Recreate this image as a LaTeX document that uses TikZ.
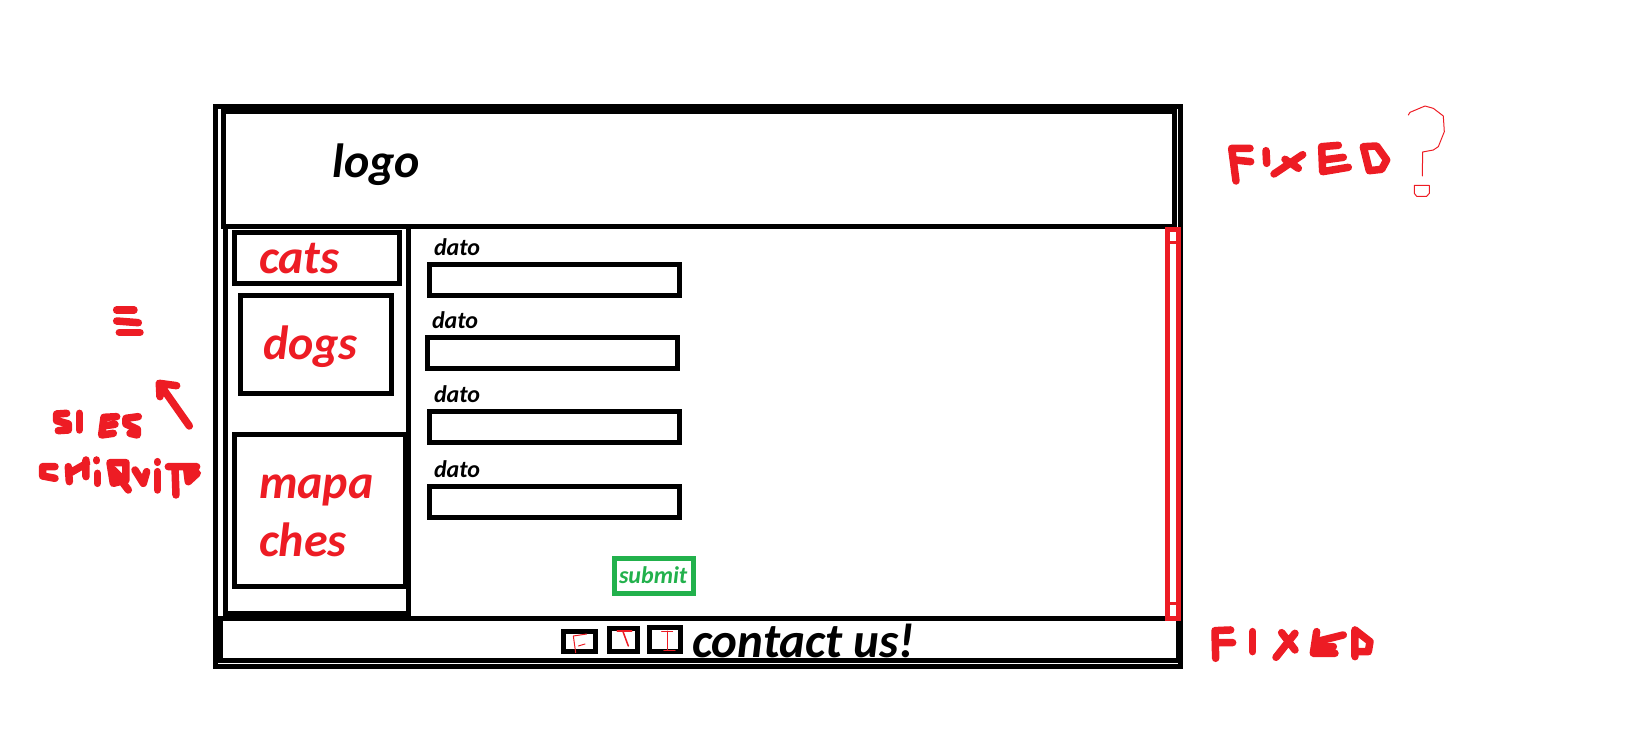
\documentclass[tikz,border=0pt]{standalone}
\usepackage{fontspec}
\setmainfont{Carlito}
\definecolor{pred}{HTML}{ED1C24}
\definecolor{pgreen}{HTML}{22B14C}
\tikzset{
  box/.style={draw=black,line width=5pt,rectangle,inner sep=0pt,outer sep=0pt},
  redbox/.style={box,draw=pred},
  greenbox/.style={box,draw=pgreen},
  lbl/.style={inner sep=0pt,outer sep=0pt,anchor=base west,font=\bfseries\itshape\fontsize{#1}{#1}\selectfont},
  marker/.style={draw=pred,line width=7.5pt,line cap=round,line join=round},
  pen/.style={draw=pred,line width=1pt,line cap=round,line join=round},
}
\newcommand{\bx}[6]{\node[#6,minimum width={(#4-#2)*1pt},minimum height={(#5-#3)*1pt}] (#1) at ({(#2+#4)/2},{(#3+#5)/2}) {};}
\begin{document}
\begin{tikzpicture}[x=1pt,y=-1pt]
\useasboundingbox (0,0) rectangle (1627,745);
% frames
\bx{outer}{215.5}{106.5}{1180.5}{666.5}{box}
\bx{header}{223.5}{111.5}{1174.5}{226.5}{box}
\bx{footer}{220.5}{618.5}{1178.5}{660.5}{box}
\bx{side}{225.5}{226.5}{408.5}{613.5}{box}
\bx{catsb}{234.5}{232.5}{399.5}{283.5}{box}
\bx{dogsb}{240.5}{295.5}{391.5}{393.5}{box}
\bx{mapb}{234.5}{434.5}{405.5}{586.5}{box}
% form
\bx{in1}{429.5}{264.5}{679.5}{295.5}{box}
\bx{in2}{427.5}{337.5}{677.5}{368.5}{box}
\bx{in3}{429.5}{411.5}{679.5}{442.5}{box}
\bx{in4}{429.5}{486.5}{679.5}{517.5}{box}
\bx{sub}{614.5}{558.5}{693.5}{593.5}{greenbox}
% icons
\bx{icf}{563.5}{631.5}{595.5}{651.5}{box}
\bx{ict}{609.5}{628.5}{637.5}{651.5}{box}
\bx{ici}{649.5}{627.5}{680.5}{651.5}{box}
% scrollbar
\bx{scroll}{1167.5}{229.5}{1178.5}{618.5}{redbox}
\draw[pred,line width=3pt] (1168,242.5) -- (1178,242.5);
\draw[pred,line width=3pt] (1168,603.5) -- (1178,603.5);
% texts
\node[lbl=48] (tlogo) at (332.5,177) {logo};
\node[lbl=48,text=pred] (tcats) at (259,273) {cats};
\node[lbl=48,text=pred] (tdogs) at (263,359) {dogs};
\node[lbl=48,text=pred] (tmapa) at (259,498) {mapa};
\node[lbl=48,text=pred] (tches) at (259,556) {ches};
\node[lbl=24] (d1) at (434,255) {dato};
\node[lbl=24] (d2) at (432,328) {dato};
\node[lbl=24] (d3) at (434,402) {dato};
\node[lbl=24] (d4) at (434,477) {dato};
\node[lbl=24,text=pgreen] (tsub) at (619,583) {submit};
\node[lbl=49] (tcontact) at (692,657) {contact us!};
% icon letters
\begin{scope}[shift={(530,540)},x=0.3333pt,y=-0.3333pt]
\draw[pen] (130,288) -- (137,338) (130,288) -- (170,282) (145,318) -- (165,312);
\draw[pen,line width=2pt] (262,272) -- (305,272);
\draw[pen,line width=1.5pt] (278,272) -- (295,318);
\draw[pen] (395,273) -- (428,273) (412,273) -- (412,330);
\draw[pen,line width=1.5pt] (402,331) -- (435,331);
\end{scope}
% equal sign, arrow, SI ES CHIQUITO
\begin{scope}[shift={(0,270)},x=0.3333pt,y=-0.3333pt]
\draw[marker] (350,120) -- (402,120);
\draw[marker] (350,153) -- (415,158);
\draw[marker] (358,187) -- (420,187);
\draw[marker] (568,468) -- (478,340) (530,347) -- (478,340) -- (480,380);
\draw[marker] (200,430) -- (170,432) -- (170,452) -- (205,462) -- (205,480) -- (175,482);
\draw[marker] (238,430) -- (238,480);
\draw[marker] (350,440) -- (312,442) -- (305,495) -- (340,490) (308,468) -- (345,463);
\draw[marker] (415,440) -- (378,445) -- (378,462) -- (412,478) -- (412,495) -- (390,490);
\draw[marker] (165,590) -- (128,590) -- (128,618) -- (165,625);
\draw[marker] (205,590) -- (208,635) (208,610) -- (260,580) (258,570) -- (258,620);
\draw[marker] (290,570) -- (290,572) (292,610) -- (292,640);
\draw[marker] (330,578) -- (378,578) -- (378,630) -- (340,640) -- cycle (340,600) -- (360,620) (370,640) -- (385,660);
\draw[marker] (405,600) -- (430,640) -- (440,605);
\draw[marker] (472,575) -- (472,577) (472,605) -- (472,660);
\draw[marker] (505,590) -- (590,590) (525,590) -- (528,675) (560,595) -- (592,610) -- (565,635) -- cycle;
\end{scope}
% top FIXED
\begin{scope}[shift={(1160,80)},x=0.3333pt,y=-0.3333pt]
\draw[marker] (270,205) -- (215,205) -- (228,303) (225,240) -- (272,245);
\draw[marker] (318,212) -- (320,250);
\draw[marker] (342,282) -- (428,224) (375,238) -- (415,265);
\draw[marker] (535,196) -- (485,200) -- (488,275) -- (565,262) (490,240) -- (550,232);
\draw[marker] (610,200) -- (650,198) -- (680,240) -- (665,268) -- (628,272) -- cycle;
\draw[pen] (745,105) -- (750,97) -- (795,78) -- (820,85) -- (850,108) -- (853,155) -- (835,200) -- (820,210) -- (788,216) -- (787,288);
\draw[pen] (763,316) -- (808,316) -- (808,340) -- (800,349) -- (770,349) -- (763,340) -- cycle;
\end{scope}
% bottom FIXED
\begin{scope}[shift={(1100,200)},x=0.3333pt,y=-0.3333pt]
\draw[marker] (392,1290) -- (345,1292) -- (347,1375) (350,1328) -- (398,1328);
\draw[marker] (458,1295) -- (458,1355);
\draw[marker] (545,1298) -- (585,1350) (585,1300) -- (528,1372);
\draw[marker] (650,1295) -- (640,1360) -- (705,1360) (650,1325) -- (730,1305) (650,1342) -- (700,1340);
\draw[marker] (765,1290) -- (765,1370) (765,1290) -- (810,1325) -- (805,1355) -- (765,1355);
\end{scope}
\end{tikzpicture}
\end{document}
